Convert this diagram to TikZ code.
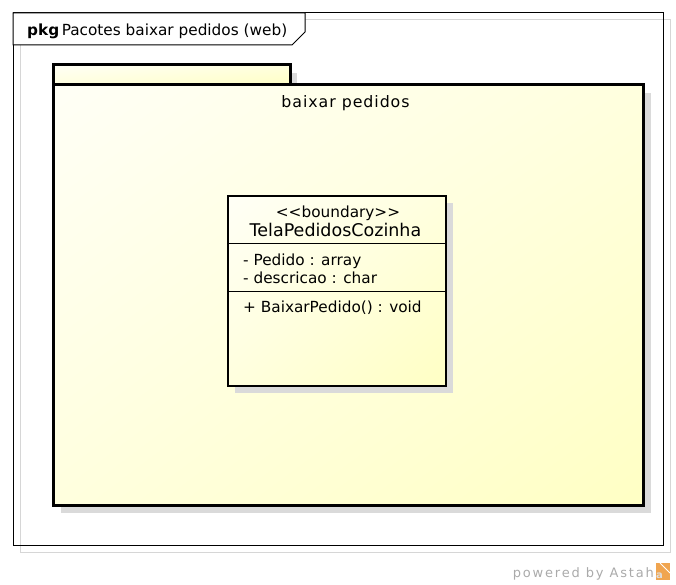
\documentclass[tikz,border=0pt]{standalone}
\usepackage{fontspec}
\setmainfont{DejaVu Sans}
\newfontfamily\pkgfont[LetterSpace=6]{DejaVu Sans}
\newfontfamily\powfont[LetterSpace=14]{DejaVu Sans}
\usetikzlibrary{shadings}
\definecolor{pkgY}{RGB}{255,255,196}
\definecolor{pkgM}{RGB}{255,255,222}
\definecolor{pkgW}{RGB}{255,255,246}
\definecolor{shad}{RGB}{218,218,218}
\definecolor{frgray}{RGB}{214,214,214}
\definecolor{powgray}{RGB}{170,170,170}
\definecolor{astahO}{RGB}{240,165,80}
\tikzset{
  frameline/.style={draw=black,line width=1pt},
  pkgline/.style={draw=black,line width=3pt,line join=miter},
  clsline/.style={draw=black,line width=2.5pt,line join=miter},
  shadowfill/.style={fill=shad,draw=none},
  yshade/.style={upper left=pkgW,upper right=pkgM,lower left=pkgM,lower right=pkgY},
  txt/.style={inner sep=0pt,anchor=base,font=\fontsize{15.3}{18}\selectfont},
  lefttxt/.style={txt,anchor=base west},
}
\begin{document}
\begin{tikzpicture}[x=1pt,y=-1pt]
\useasboundingbox (0,0) rectangle (676,585);
% frame
\draw[frgray,line width=1pt] (20,20) rectangle (670,552);
\draw[frameline] (13,13) rectangle (663,545);
\draw[frameline,fill=white] (13,13) -- (305,13) -- (305,32) -- (292,45) -- (13,45) -- cycle;
\node[lefttxt] (title) at (27,35.5) {\textbf{pkg}\kern2.5pt Pacotes baixar pedidos (web)};
% package shadow
\fill[shadowfill] (61,73) rectangle (297,93);
\fill[shadowfill] (61,93) rectangle (651,513);
% package
\shade[yshade] (53,65) rectangle (290,85);
\draw[pkgline] (53,65) rectangle (290,85);
\shade[yshade] (53,85) rectangle (643,505);
\draw[pkgline] (53,85) rectangle (643,505);
\node[txt,font=\pkgfont\fontsize{15.8}{18}\selectfont] (pkgname) at (345.5,107.5) {baixar pedidos};
% class shadow
\fill[shadowfill] (235,203) rectangle (453,393);
\shade[yshade] (228,196) rectangle (446,386);
\draw[clsline] (228,196) rectangle (446,386);
\draw[black,line width=1pt] (228,243) -- (446,243);
\draw[black,line width=1pt] (228,291) -- (446,291);
\node[txt] (stereo) at (338,217) {<\kern0pt<boundary>\kern0pt>};
\node[txt,font=\fontsize{17.5}{20}\selectfont] (clsname) at (335.5,236) {TelaPedidosCozinha};
\node[lefttxt] (attr1) at (243,265) {- Pedido : array};
\node[lefttxt] (attr2) at (243,283.5) {- descricao : char};
\node[lefttxt] (meth1) at (243,312.5) {+ BaixarPedido() : void};
% powered by
\node[txt,anchor=base east,text=powgray,font=\powfont\fontsize{13}{15}\selectfont] (powered) at (654,577) {powered by Astah};
\fill[astahO] (655.5,563) rectangle (670,580);
\draw[white,line width=1pt] (660,563) -- (670,573);
\node[inner sep=0pt,anchor=base west,text=white!75!gray,font=\fontsize{10}{10}\selectfont\bfseries] (logo) at (656,578.5) {a};
\end{tikzpicture}
\end{document}
